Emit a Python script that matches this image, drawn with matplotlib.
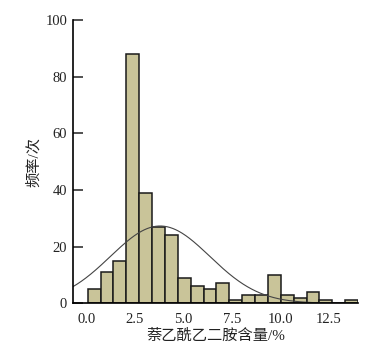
import numpy as np
import matplotlib
matplotlib.use('Agg')
import matplotlib.pyplot as plt

# histogram counts per bin
counts = [5, 11, 15, 88, 39, 27, 24, 9, 6, 5, 7, 1, 3, 3, 10, 3, 2, 4, 1, 0, 1]
bin_start = 0.07
bin_width = 0.663

# fitted normal curve parameters
fit_mean = 3.8
fit_sd = 2.56

x_ticks = [0.0, 2.5, 5.0, 7.5, 10.0, 12.5]
y_ticks = [0, 20, 40, 60, 80, 100]

plt.rcParams['font.family'] = ['Liberation Serif', 'Noto Sans CJK SC']

fig = plt.figure(figsize=(3.79, 3.45), dpi=100)
ax = fig.add_axes([0.192, 0.121, 0.753, 0.821])

lefts = bin_start + bin_width * np.arange(len(counts))
ax.bar(lefts, counts, width=bin_width, align='edge',
	color='#c9c499', edgecolor='#1a1a1a', linewidth=1.1)

xs = np.linspace(-0.7, 14.0, 400)
total = sum(counts)
ys = total * bin_width / (fit_sd * np.sqrt(2 * np.pi)) * np.exp(-(xs - fit_mean) ** 2 / (2 * fit_sd ** 2))
ax.plot(xs, ys, color='#444444', linewidth=0.8)

ax.set_xlim(-0.7, 14.0)
ax.set_ylim(0, 100)
ax.set_xticks(x_ticks)
ax.set_xticklabels(['%.1f' % v for v in x_ticks])
ax.set_yticks(y_ticks)

ax.spines['top'].set_visible(False)
ax.spines['right'].set_visible(False)
ax.spines['left'].set_linewidth(1.2)
ax.spines['bottom'].set_linewidth(1.2)

ax.tick_params(axis='y', direction='in', length=7, width=1.1, pad=4, labelsize=10.5, colors='#222222')
ax.tick_params(axis='x', length=0, pad=7, labelsize=10.5, colors='#222222')

ax.set_xlabel('萘乙酰乙二胺含量/%', fontsize=11, labelpad=2, color='#222222')
ax.set_ylabel('频率/次', fontsize=11, labelpad=3, color='#222222')

plt.savefig('out.png', dpi=100)
